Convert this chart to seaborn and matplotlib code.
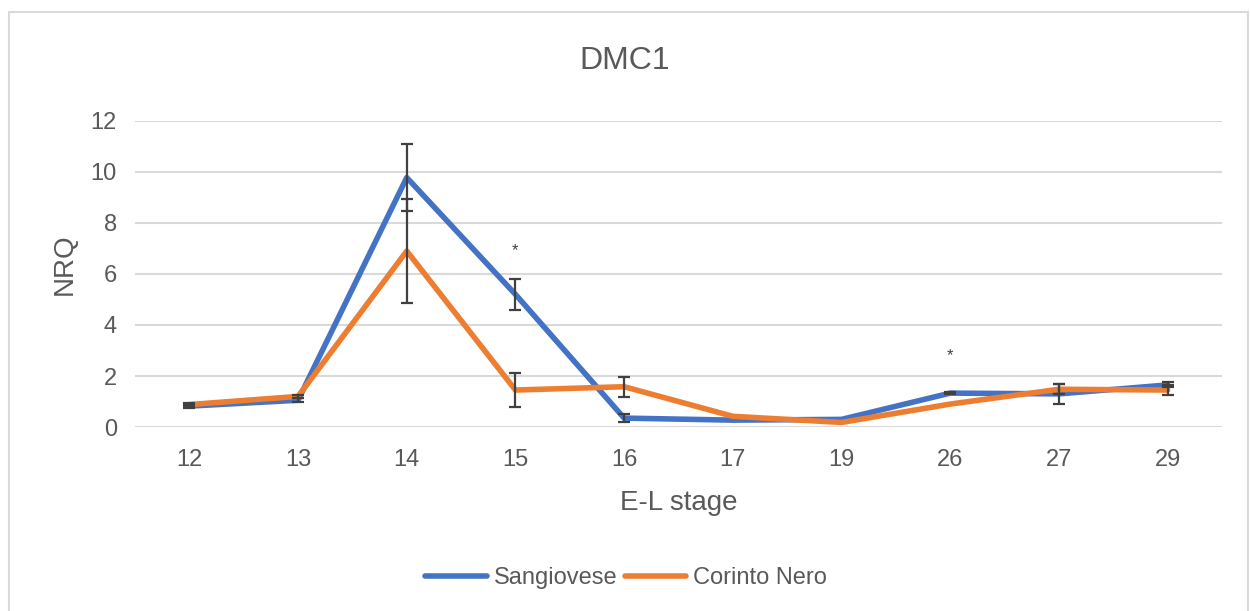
import matplotlib
matplotlib.use("Agg")
import matplotlib.pyplot as plt
import seaborn as sns
import pandas as pd
import numpy as np
from matplotlib.patches import Rectangle
from matplotlib.lines import Line2D

stages = ["12", "13", "14", "15", "16", "17", "19", "26", "27", "29"]
sangiovese = [0.82, 1.05, 9.78, 5.2, 0.35, 0.27, 0.3, 1.33, 1.3, 1.65]
sangiovese_err = [0.08, 0.08, 1.3, 0.62, 0.15, 0.0, 0.0, 0.05, 0.39, 0.1]
corinto = [0.88, 1.2, 6.9, 1.45, 1.58, 0.42, 0.18, 0.9, 1.48, 1.45]
corinto_err = [0.05, 0.05, 2.03, 0.67, 0.4, 0.0, 0.0, 0.0, 0.2, 0.2]
series_names = ["Sangiovese", "Corinto Nero"]
star_stages = ["15", "26"]
star_values = [6.9, 2.8]
y_ticks = [0, 2, 4, 6, 8, 10, 12]

colors = ["#4472C4", "#ED7D31"]
text_color = "#595959"
font = "Liberation Sans"

sns.set_style("white")
plt.rcParams["font.family"] = [font, "DejaVu Sans"]

df = pd.DataFrame({
    "stage": stages * 2,
    "NRQ": sangiovese + corinto,
    "series": [series_names[0]] * len(stages) + [series_names[1]] * len(stages),
})

fig = plt.figure(figsize=(12.5, 6.11), dpi=100)
ax = fig.add_axes([0.108, 0.3011, 0.8696, 0.501])

sns.lineplot(data=df, x="stage", y="NRQ", hue="series", palette=colors,
             sort=False, linewidth=4.0, ax=ax, legend=False, zorder=3,
             solid_capstyle="round", solid_joinstyle="round")

xpos = np.arange(len(stages))
for vals, errs in [(sangiovese, sangiovese_err), (corinto, corinto_err)]:
    v = np.array(vals)
    e = np.array(errs)
    m = e > 0
    ax.errorbar(xpos[m], v[m], yerr=e[m], fmt="none", ecolor="#404040",
                elinewidth=1.6, capsize=4, capthick=1.6, zorder=4)

for s, v in zip(star_stages, star_values):
    ax.text(stages.index(s), v, "*", ha="center", va="center",
            fontsize=12, color="#404040")

ax.set_xlim(-0.5, len(stages) - 0.5)
ax.set_ylim(0, 12)
ax.set_yticks(y_ticks)
ax.set_yticklabels([str(t) for t in y_ticks])
ax.yaxis.grid(True, color="#d9d9d9", linewidth=1.5)
ax.xaxis.grid(False)
ax.set_axisbelow(True)
for sp in ax.spines.values():
    sp.set_visible(False)
ax.tick_params(axis="both", length=0, labelsize=17, colors=text_color)
ax.tick_params(axis="y", pad=13)
ax.tick_params(axis="x", pad=16)
ax.set_xlabel("")
ax.set_ylabel("")

fig.text(0.5, 0.9, "DMC1", ha="center", va="center", fontsize=23, color=text_color)
fig.text(0.052, 0.567, "NRQ", ha="center", va="center", rotation=90, fontsize=20, color=text_color)
fig.text(0.543, 0.177, "E-L stage", ha="center", va="center", fontsize=20, color=text_color)

handles = [Line2D([0], [0], color=c, linewidth=4.0, solid_capstyle="round") for c in colors]
fig.legend(handles, series_names, loc="center", bbox_to_anchor=(0.501, 0.054),
           ncol=2, frameon=False, fontsize=17, labelcolor=text_color,
           handlelength=2.6, handletextpad=0.3, columnspacing=0.3)

fig.patches.append(Rectangle((9 / 1250, -0.05), 1239 / 1250, 1.05 - 12 / 611,
                             transform=fig.transFigure, fill=False,
                             edgecolor="#d9d9d9", linewidth=1.5))

fig.savefig("out.png", dpi=100)
